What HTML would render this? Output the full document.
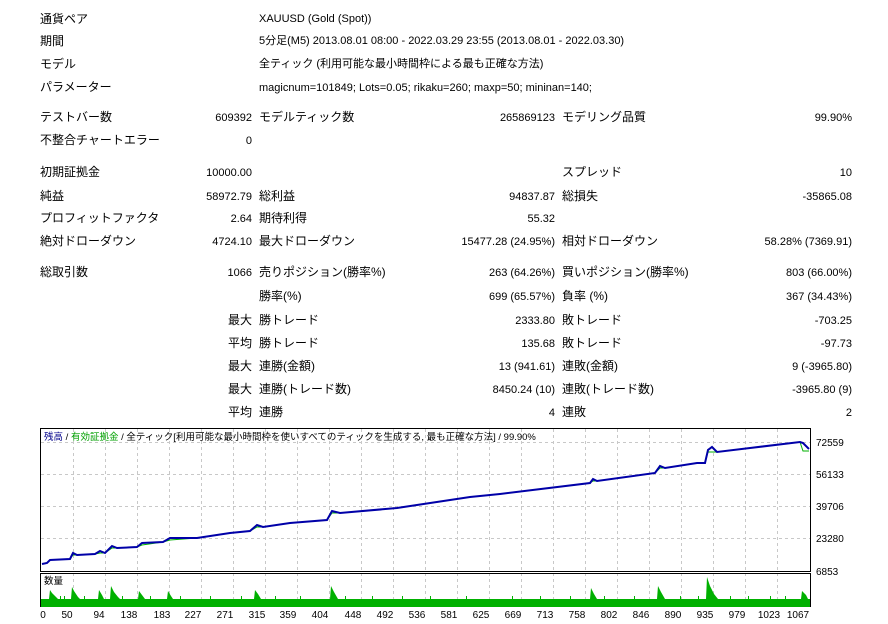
<!DOCTYPE html>
<html><head><meta charset="utf-8"><style>
body{margin:0;width:888px;height:624px;background:#fff;position:relative;overflow:hidden;font-family:"Liberation Sans","Noto Sans CJK JP",sans-serif;font-size:11px;color:#000}
.t{position:absolute;white-space:nowrap;line-height:14px}
.r{text-align:right}
.j{font-size:12px}
</style></head><body>
<div class="t j" style="left:40px;top:12px">通貨ペア</div>
<div class="t" style="left:259px;top:12px">XAUUSD (Gold (Spot))</div>
<div class="t j" style="left:40px;top:34px">期間</div>
<div class="t" style="left:259px;top:34px">5分足(M5) 2013.08.01 08:00 - 2022.03.29 23:55 (2013.08.01 - 2022.03.30)</div>
<div class="t j" style="left:40px;top:57px">モデル</div>
<div class="t" style="left:259px;top:57px">全ティック (利用可能な最小時間枠による最も正確な方法)</div>
<div class="t j" style="left:40px;top:80px">パラメーター</div>
<div class="t" style="left:259px;top:81px">magicnum=101849; Lots=0.05; rikaku=260; maxp=50; mininan=140;</div>

<div class="t j" style="left:40px;top:110px">テストバー数</div>
<div class="t r" style="right:636px;top:111px">609392</div>
<div class="t j" style="left:259px;top:110px">モデルティック数</div>
<div class="t r" style="right:333px;top:111px">265869123</div>
<div class="t j" style="left:562px;top:110px">モデリング品質</div>
<div class="t r" style="right:36px;top:111px">99.90%</div>
<div class="t j" style="left:40px;top:133px">不整合チャートエラー</div>
<div class="t r" style="right:636px;top:134px">0</div>

<div class="t j" style="left:40px;top:165px">初期証拠金</div>
<div class="t r" style="right:636px;top:166px">10000.00</div>
<div class="t j" style="left:562px;top:165px">スプレッド</div>
<div class="t r" style="right:36px;top:166px">10</div>
<div class="t j" style="left:40px;top:189px">純益</div>
<div class="t r" style="right:636px;top:190px">58972.79</div>
<div class="t j" style="left:259px;top:189px">総利益</div>
<div class="t r" style="right:333px;top:190px">94837.87</div>
<div class="t j" style="left:562px;top:189px">総損失</div>
<div class="t r" style="right:36px;top:190px">-35865.08</div>
<div class="t j" style="left:40px;top:211px">プロフィットファクタ</div>
<div class="t r" style="right:636px;top:212px">2.64</div>
<div class="t j" style="left:259px;top:211px">期待利得</div>
<div class="t r" style="right:333px;top:212px">55.32</div>
<div class="t j" style="left:40px;top:234px">絶対ドローダウン</div>
<div class="t r" style="right:636px;top:235px">4724.10</div>
<div class="t j" style="left:259px;top:234px">最大ドローダウン</div>
<div class="t r" style="right:333px;top:235px">15477.28 (24.95%)</div>
<div class="t j" style="left:562px;top:234px">相対ドローダウン</div>
<div class="t r" style="right:36px;top:235px">58.28% (7369.91)</div>

<div class="t j" style="left:40px;top:265px">総取引数</div>
<div class="t r" style="right:636px;top:266px">1066</div>
<div class="t j" style="left:259px;top:265px">売りポジション(勝率%)</div>
<div class="t r" style="right:333px;top:266px">263 (64.26%)</div>
<div class="t j" style="left:562px;top:265px">買いポジション(勝率%)</div>
<div class="t r" style="right:36px;top:266px">803 (66.00%)</div>
<div class="t j" style="left:259px;top:289px">勝率(%)</div>
<div class="t r" style="right:333px;top:290px">699 (65.57%)</div>
<div class="t j" style="left:562px;top:289px">負率 (%)</div>
<div class="t r" style="right:36px;top:290px">367 (34.43%)</div>
<div class="t r j" style="right:636px;top:313px">最大</div>
<div class="t j" style="left:259px;top:313px">勝トレード</div>
<div class="t r" style="right:333px;top:314px">2333.80</div>
<div class="t j" style="left:562px;top:313px">敗トレード</div>
<div class="t r" style="right:36px;top:314px">-703.25</div>
<div class="t r j" style="right:636px;top:336px">平均</div>
<div class="t j" style="left:259px;top:336px">勝トレード</div>
<div class="t r" style="right:333px;top:337px">135.68</div>
<div class="t j" style="left:562px;top:336px">敗トレード</div>
<div class="t r" style="right:36px;top:337px">-97.73</div>
<div class="t r j" style="right:636px;top:359px">最大</div>
<div class="t j" style="left:259px;top:359px">連勝(金額)</div>
<div class="t r" style="right:333px;top:360px">13 (941.61)</div>
<div class="t j" style="left:562px;top:359px">連敗(金額)</div>
<div class="t r" style="right:36px;top:360px">9 (-3965.80)</div>
<div class="t r j" style="right:636px;top:382px">最大</div>
<div class="t j" style="left:259px;top:382px">連勝(トレード数)</div>
<div class="t r" style="right:333px;top:383px">8450.24 (10)</div>
<div class="t j" style="left:562px;top:382px">連敗(トレード数)</div>
<div class="t r" style="right:36px;top:383px">-3965.80 (9)</div>
<div class="t r j" style="right:636px;top:405px">平均</div>
<div class="t j" style="left:259px;top:405px">連勝</div>
<div class="t r" style="right:333px;top:406px">4</div>
<div class="t j" style="left:562px;top:405px">連敗</div>
<div class="t r" style="right:36px;top:406px">2</div>

<svg width="888" height="624" style="position:absolute;left:0;top:0" font-family="Liberation Sans, Noto Sans CJK JP, sans-serif" font-size="10">
<g stroke="#c8c8c8" stroke-dasharray="3,3" stroke-width="1">
<line x1="41" x2="810" y1="442.5" y2="442.5"/><line x1="41" x2="810" y1="474.5" y2="474.5"/><line x1="41" x2="810" y1="506.5" y2="506.5"/><line x1="41" x2="810" y1="538.5" y2="538.5"/>
<line x1="73.5" x2="73.5" y1="429" y2="606"/><line x1="105.5" x2="105.5" y1="429" y2="606"/><line x1="137.5" x2="137.5" y1="429" y2="606"/><line x1="169.5" x2="169.5" y1="429" y2="606"/><line x1="201.5" x2="201.5" y1="429" y2="606"/><line x1="233.5" x2="233.5" y1="429" y2="606"/><line x1="265.5" x2="265.5" y1="429" y2="606"/><line x1="297.5" x2="297.5" y1="429" y2="606"/><line x1="329.5" x2="329.5" y1="429" y2="606"/><line x1="361.5" x2="361.5" y1="429" y2="606"/><line x1="393.5" x2="393.5" y1="429" y2="606"/><line x1="425.5" x2="425.5" y1="429" y2="606"/><line x1="457.5" x2="457.5" y1="429" y2="606"/><line x1="489.5" x2="489.5" y1="429" y2="606"/><line x1="521.5" x2="521.5" y1="429" y2="606"/><line x1="553.5" x2="553.5" y1="429" y2="606"/><line x1="585.5" x2="585.5" y1="429" y2="606"/><line x1="617.5" x2="617.5" y1="429" y2="606"/><line x1="649.5" x2="649.5" y1="429" y2="606"/><line x1="681.5" x2="681.5" y1="429" y2="606"/><line x1="713.5" x2="713.5" y1="429" y2="606"/><line x1="745.5" x2="745.5" y1="429" y2="606"/><line x1="777.5" x2="777.5" y1="429" y2="606"/>
</g>
<rect x="40.5" y="428.5" width="770" height="143" fill="none" stroke="#000"/>
<rect x="40.5" y="573.5" width="770" height="33" fill="none" stroke="#000"/>
<text x="44" y="440" font-size="9.5"><tspan fill="#00008b">残高</tspan> / <tspan fill="#00a000">有効証拠金</tspan> / 全ティック[利用可能な最小時間枠を使いすべてのティックを生成する, 最も正確な方法] / 99.90%</text>
<polyline fill="none" stroke="#00b000" stroke-width="1" points="42,564 47,563 50,560 70,559 73,555 77,555 95,554 100,553 105,553 112,548 117,548 137,547 142,545 163,542 170,540 197,538 230,533 250,531 257,527 263,527 290,523 327,520 332,513 340,513 397,508 470,497 490,495 500,494 590,483 593,481 597,481 655,473 660,468 665,468 697,463 705,463 708,452 717,452 750,448 800,442 803,451 809,451"/>
<polyline fill="none" stroke="#0000a8" stroke-width="2" points="42,564 47,563 50,560 70,559 73,553 77,555 95,554 100,551 105,553 112,546 117,548 137,547 142,543 163,542 170,538 197,538 230,533 250,531 257,525 263,527 290,523 327,520 332,511 340,513 397,508 470,497 490,495 500,494 590,483 593,479 597,481 655,473 660,466 665,468 697,463 705,463 708,450 712,447 717,452 750,448 800,442 803,443 809,449"/>
<text x="44" y="584" font-size="9.5">数量</text>
<rect x="41" y="599" width="769" height="8" fill="#00b000"/>
<g fill="#00b000">
<polygon points="49,599 50,590 52,593 56,597 58,599"/>
<polygon points="71,599 72,587 74,591 78,597 80,599"/>
<polygon points="98,599 99,590 102,595 104,599"/>
<polygon points="110,599 111,586 114,592 118,597 120,599"/>
<polygon points="138,599 139,591 142,595 145,599"/>
<polygon points="167,599 168,591 171,596 173,599"/>
<polygon points="254,599 255,590 258,594 261,599"/>
<polygon points="330,599 331,586 334,592 338,599"/>
<polygon points="590,599 591,588 594,594 597,599"/>
<polygon points="657,599 658,586 661,592 665,599"/>
<polygon points="706,599 707,577 710,586 714,594 718,599"/>
<polygon points="801,599 802,591 806,595 808,599"/>
<rect x="60" y="596" width="1" height="3"/><rect x="64" y="596" width="1" height="3"/><rect x="84" y="596" width="1" height="3"/><rect x="122" y="596" width="1" height="3"/><rect x="150" y="596" width="1" height="3"/><rect x="180" y="596" width="1" height="3"/><rect x="210" y="596" width="1" height="3"/><rect x="241" y="596" width="1" height="3"/><rect x="275" y="596" width="1" height="3"/><rect x="300" y="596" width="1" height="3"/><rect x="345" y="596" width="1" height="3"/><rect x="372" y="596" width="1" height="3"/><rect x="402" y="596" width="1" height="3"/><rect x="430" y="596" width="1" height="3"/><rect x="466" y="596" width="1" height="3"/><rect x="512" y="596" width="1" height="3"/><rect x="540" y="596" width="1" height="3"/><rect x="570" y="596" width="1" height="3"/><rect x="604" y="596" width="1" height="3"/><rect x="634" y="596" width="1" height="3"/><rect x="680" y="596" width="1" height="3"/><rect x="698" y="596" width="1" height="3"/><rect x="730" y="596" width="1" height="3"/><rect x="748" y="596" width="1" height="3"/><rect x="770" y="596" width="1" height="3"/><rect x="785" y="596" width="1" height="3"/>
</g>
<g font-size="10" fill="#000">
<text x="816" y="446">72559</text><text x="816" y="478">56133</text><text x="816" y="510">39706</text><text x="816" y="542">23280</text><text x="816" y="575">6853</text>
</g>
<g font-size="10" text-anchor="middle">
<text x="43" y="618">0</text><text x="67" y="618">50</text><text x="99" y="618">94</text><text x="129" y="618">138</text><text x="162" y="618">183</text><text x="193" y="618">227</text><text x="225" y="618">271</text><text x="257" y="618">315</text><text x="288" y="618">359</text><text x="320" y="618">404</text><text x="353" y="618">448</text><text x="385" y="618">492</text><text x="417" y="618">536</text><text x="449" y="618">581</text><text x="481" y="618">625</text><text x="513" y="618">669</text><text x="545" y="618">713</text><text x="577" y="618">758</text><text x="609" y="618">802</text><text x="641" y="618">846</text><text x="673" y="618">890</text><text x="705" y="618">935</text><text x="737" y="618">979</text><text x="769" y="618">1023</text><text x="798" y="618">1067</text>
</g>
</svg>
</body></html>
